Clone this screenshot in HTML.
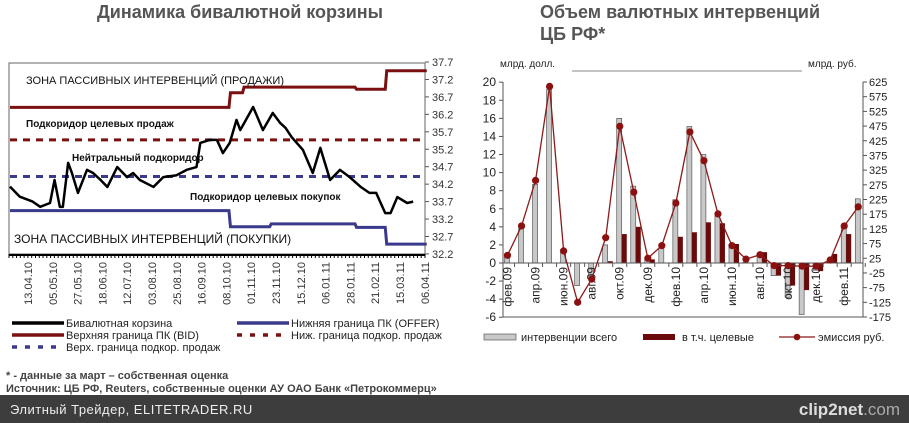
<!DOCTYPE html>
<html><head><meta charset="utf-8">
<style>
body{margin:0;background:#fff;}
svg{display:block;font-family:"Liberation Sans",sans-serif;}
</style></head>
<body>
<svg id="root" width="909" height="423" viewBox="0 0 909 423" xmlns="http://www.w3.org/2000/svg">
<text x="240" y="18" text-anchor="middle" font-size="18" font-weight="bold" fill="#555">Динамика бивалютной корзины</text>
<text x="540" y="18" font-size="18" font-weight="bold" fill="#555">Объем валютных интервенций</text>
<text x="540" y="40" font-size="18" font-weight="bold" fill="#555">ЦБ РФ*</text>
<g id="left"></g>
<g id="right"></g>
<text x="6" y="379" font-size="11" font-weight="bold" fill="#444">* - данные за март – собственная оценка</text>
<text x="6" y="392" font-size="11" font-weight="bold" fill="#444">Источник: ЦБ РФ, Reuters, собственные оценки АУ ОАО Банк «Петрокоммерц»</text>
<rect x="0" y="395" width="909" height="28" fill="#3d3d3d"/>
<text x="10" y="414" font-size="13" fill="#eee" letter-spacing="0.5">Элитный Трейдер, ELITETRADER.RU</text>
<text x="900" y="415" text-anchor="end" font-size="17" font-weight="bold" fill="#ddd">clip2net<tspan fill="#aaa" font-weight="normal">.com</tspan></text>
</svg>
<script>
// ---- left chart data ----
const basketT = [0,1.3,3,4,5.3,5.9,6.6,7,7.7,8.2,9,10.2,11,12,12.9,14.2,15.5,16.3,17.2,19,20.3,22,23.4,24.7,25.2,26.5,27.4,28.2,29.1,30,30.5,32.2,33.5,34.8,35.8,36.5,37.3,38.8,40.1,41.1,42.4,43.7,45,46.4,47.6,48.5,49.7,50.4,51.3,52.6,53.4];
const basketV = [34.13,33.84,33.70,33.55,33.66,34.32,33.55,33.55,34.81,34.52,33.95,34.61,34.52,34.32,34.12,34.69,34.40,34.52,34.32,34.12,34.40,34.45,34.61,34.69,35.38,35.47,35.47,35.09,35.38,36.04,35.75,36.41,35.75,36.24,35.95,35.81,35.55,35.18,34.52,35.24,34.32,34.61,34.40,34.13,33.95,33.95,33.37,33.37,33.83,33.66,33.70];
const bidSteps = [[0,36.40],[29,36.82],[30.8,36.98],[45.7,36.92],[49.7,37.45],[55,37.45]];
const offerSteps = [[0,33.44],[29,32.98],[34.4,33.06],[45.7,32.96],[49.7,32.48],[55,32.48]];
const sellDash = 35.47, buyDash = 34.42;
const leftTicks = [37.7,37.2,36.7,36.2,35.7,35.2,34.7,34.2,33.7,33.2,32.7,32.2];
const dateLabels = ["13.04.10","05.05.10","27.05.10","18.06.10","12.07.10","03.08.10","25.08.10","16.09.10","08.10.10","01.11.10","23.11.10","15.12.10","06.01.11","28.01.11","21.02.11","15.03.11","06.04.11"];

// ---- right chart data ----
const months = ["фев.09","мар.09","апр.09","май.09","июн.09","июл.09","авг.09","сен.09","окт.09","ноя.09","дек.09","янв.10","фев.10","мар.10","апр.10","май.10","июн.10","июл.10","авг.10","сен.10","окт.10","ноя.10","дек.10","янв.11","фев.11","мар.11"];
const totalUsd = [1.0,3.8,8.7,19.2,1.5,-2.5,-1.8,2.0,16.0,8.5,0.6,1.8,7.0,15.1,12.0,5.2,2.0,0.1,1.0,-1.4,-3.8,-5.7,-0.8,0.1,4.0,7.1];
const targetUsd = [0,0,0,0,0,0,0,0.2,3.2,4.0,0.4,0,2.9,3.4,4.5,4.4,2.1,0,1.2,-1.4,-2.5,-3.0,-0.9,1.0,3.2,0];
const emissionRub = [35,135,290,610,50,-125,-46,95,474,250,25,68,213,455,357,176,68,22,37,0,0,-2,-2,19,135,200];
const usdTicks = [20,18,16,14,12,10,8,6,4,2,0,-2,-4,-6];
const rubTicks = [625,575,525,475,425,375,325,275,225,175,125,75,25,-25,-75,-125,-175];

const NS="http://www.w3.org/2000/svg";
function mk(parent,tag,attrs){const e=document.createElementNS(NS,tag);for(const k in attrs)e.setAttribute(k,attrs[k]);parent.appendChild(e);return e;}

// ---- left chart ----
const L=document.getElementById('left');
const lx=t=>10+t*7.55;
const ly=v=>62+(37.7-v)*34.9;
let e=mk(L,'rect',{x:9,y:63,width:416,height:191,fill:'none',stroke:'#666','stroke-width':1});


for(let i=0;i<=110;i++){const x=9+i*416/110;e=mk(L,'line',{x1:x,x2:x,y1:254,y2:258,stroke:'#000','stroke-width':1});}
e=mk(L,'line',{x1:9,x2:425,y1:255,y2:255,stroke:'#000','stroke-width':2});
leftTicks.forEach(v=>{const y=ly(v);e=mk(L,'line',{x1:425,x2:429,y1:y,y2:y,stroke:'#555'});
 e=mk(L,'text',{x:432,y:y+4,'font-size':11,fill:'#333'});e.textContent=v.toFixed(1);});
dateLabels.forEach((d,i)=>{const x=28+i*24.8;e=mk(L,'text',{x:0,y:0,'font-size':11,fill:'#333','text-anchor':'end',transform:`translate(${x+4},262) rotate(-90)`});e.textContent=d;});
function stepPath(s){let d='';for(let i=0;i<s.length;i++){const x=lx(s[i][0]),y=ly(s[i][1]);if(i===0)d+=`M${x},${y}`;else{d+=`L${x},${ly(s[i-1][1])}L${x+1.5},${y}`;}}return d;}
e=mk(L,'path',{d:stepPath(bidSteps),fill:'none',stroke:'#7a1010','stroke-width':3});
e=mk(L,'path',{d:stepPath(offerSteps),fill:'none',stroke:'#3a3a8c','stroke-width':3});
e=mk(L,'line',{x1:10,x2:425,y1:ly(sellDash),y2:ly(sellDash),stroke:'#7a1010','stroke-width':3,'stroke-dasharray':'7,6'});
e=mk(L,'line',{x1:10,x2:425,y1:ly(buyDash),y2:ly(buyDash),stroke:'#3a3a8c','stroke-width':3,'stroke-dasharray':'7,6'});
e=mk(L,'polyline',{points:basketT.map((t,i)=>lx(t)+','+ly(basketV[i])).join(' '),fill:'none',stroke:'#000','stroke-width':2.5,'stroke-linejoin':'round'});
[[26,84,'ЗОНА ПАССИВНЫХ ИНТЕРВЕНЦИЙ (ПРОДАЖИ)',11,'normal'],[26,127,'Подкоридор целевых продаж',10,'bold'],[72,161,'Нейтральный подкоридор',10,'bold'],[190,200,'Подкоридор целевых покупок',10,'bold'],[14,243,'ЗОНА ПАССИВНЫХ ИНТЕРВЕНЦИЙ (ПОКУПКИ)',12,'normal']].forEach(a=>{e=mk(L,'text',{x:a[0],y:a[1],'font-size':a[3],'font-weight':a[4],fill:'#111'});e.textContent=a[2];});
[[10,327,'#000',0,'Бивалютная корзина'],[10,339,'#7a1010',0,'Верхняя граница ПК (BID)'],[10,351,'#3a3a8c',1,'Верх. граница подкор. продаж'],[235,327,'#3a3a8c',0,'Нижняя граница ПК (OFFER)'],[235,339,'#7a1010',1,'Ниж. граница подкор. продаж']].forEach(a=>{
 e=mk(L,'line',{x1:a[0]+2,x2:a[0]+54,y1:a[1]-4,y2:a[1]-4,stroke:a[2],'stroke-width':3.5,'stroke-dasharray':a[3]?'5,8':'none'});
 e=mk(L,'text',{x:a[0]+56,y:a[1],'font-size':11,fill:'#222'});e.textContent=a[4];});

// ---- right chart ----
const R=document.getElementById('right');
const mx=i=>507.5+i*14.03;
const uy=v=>263+(0-v)*9.04;
const ry=r=>82+(625-r)*(235/800);
e=mk(R,'text',{x:500,y:67,'font-size':10,fill:'#222'});e.textContent='млрд. долл.';
e=mk(R,'text',{x:808,y:67,'font-size':10,fill:'#222'});e.textContent='млрд. руб.';
e=mk(R,'line',{x1:572,x2:802,y1:71,y2:71,stroke:'#888'});
e=mk(R,'line',{x1:503,x2:503,y1:82,y2:317,stroke:'#555'});
e=mk(R,'line',{x1:863,x2:863,y1:82,y2:317,stroke:'#555'});
e=mk(R,'line',{x1:503,x2:863,y1:317,y2:317,stroke:'#555'});
usdTicks.forEach(v=>{const y=uy(v);e=mk(R,'line',{x1:499,x2:503,y1:y,y2:y,stroke:'#555'});
 e=mk(R,'text',{x:496,y:y+4,'font-size':12,fill:'#222','text-anchor':'end'});e.textContent=v;});
rubTicks.forEach(v=>{const y=ry(v);e=mk(R,'line',{x1:863,x2:867,y1:y,y2:y,stroke:'#555'});
 e=mk(R,'text',{x:869,y:y+4,'font-size':11,fill:'#222'});e.textContent=v;});
months.forEach((m,i)=>{const x=mx(i);
 e=mk(R,'rect',{x:x-3,y:Math.min(uy(0),uy(totalUsd[i])),width:5,height:Math.abs(uy(totalUsd[i])-uy(0)),fill:'#c8c8c8',stroke:'#444','stroke-width':0.6});
 if(targetUsd[i]!==0){e=mk(R,'rect',{x:x+2,y:Math.min(uy(0),uy(targetUsd[i])),width:5,height:Math.abs(uy(targetUsd[i])-uy(0)),fill:'#6b0a0a'});}
 if(i%2===0){e=mk(R,'text',{x:0,y:0,'font-size':12,fill:'#222','text-anchor':'end',transform:`translate(${x+4},267) rotate(-90)`});e.textContent=m;}
 e=mk(R,'line',{x1:x+7,x2:x+7,y1:263,y2:267,stroke:'#555'});
});
e=mk(R,'line',{x1:503,x2:863,y1:uy(0),y2:uy(0),stroke:'#555'});
e=mk(R,'polyline',{points:emissionRub.map((r,i)=>mx(i)+','+ry(r)).join(' '),fill:'none',stroke:'#8b1a1a','stroke-width':1.3});
emissionRub.forEach((r,i)=>{e=mk(R,'circle',{cx:mx(i),cy:ry(r),r:3.6,fill:'#8b1010'});});
// legend
e=mk(R,'rect',{x:484,y:334,width:32,height:6,fill:'#c8c8c8',stroke:'#444','stroke-width':0.6});
e=mk(R,'text',{x:521,y:341,'font-size':11,fill:'#222'});e.textContent='интервенции всего';
e=mk(R,'rect',{x:643,y:334,width:32,height:6,fill:'#6b0a0a'});
e=mk(R,'text',{x:682,y:341,'font-size':11,fill:'#222'});e.textContent='в т.ч. целевые';
e=mk(R,'line',{x1:779,x2:815,y1:337,y2:337,stroke:'#8b1a1a','stroke-width':1.2});
e=mk(R,'circle',{cx:797,cy:337,r:3.3,fill:'#8b1010'});
e=mk(R,'text',{x:818,y:341,'font-size':11,fill:'#222'});e.textContent='эмиссия руб.';
</script>
</body></html>
